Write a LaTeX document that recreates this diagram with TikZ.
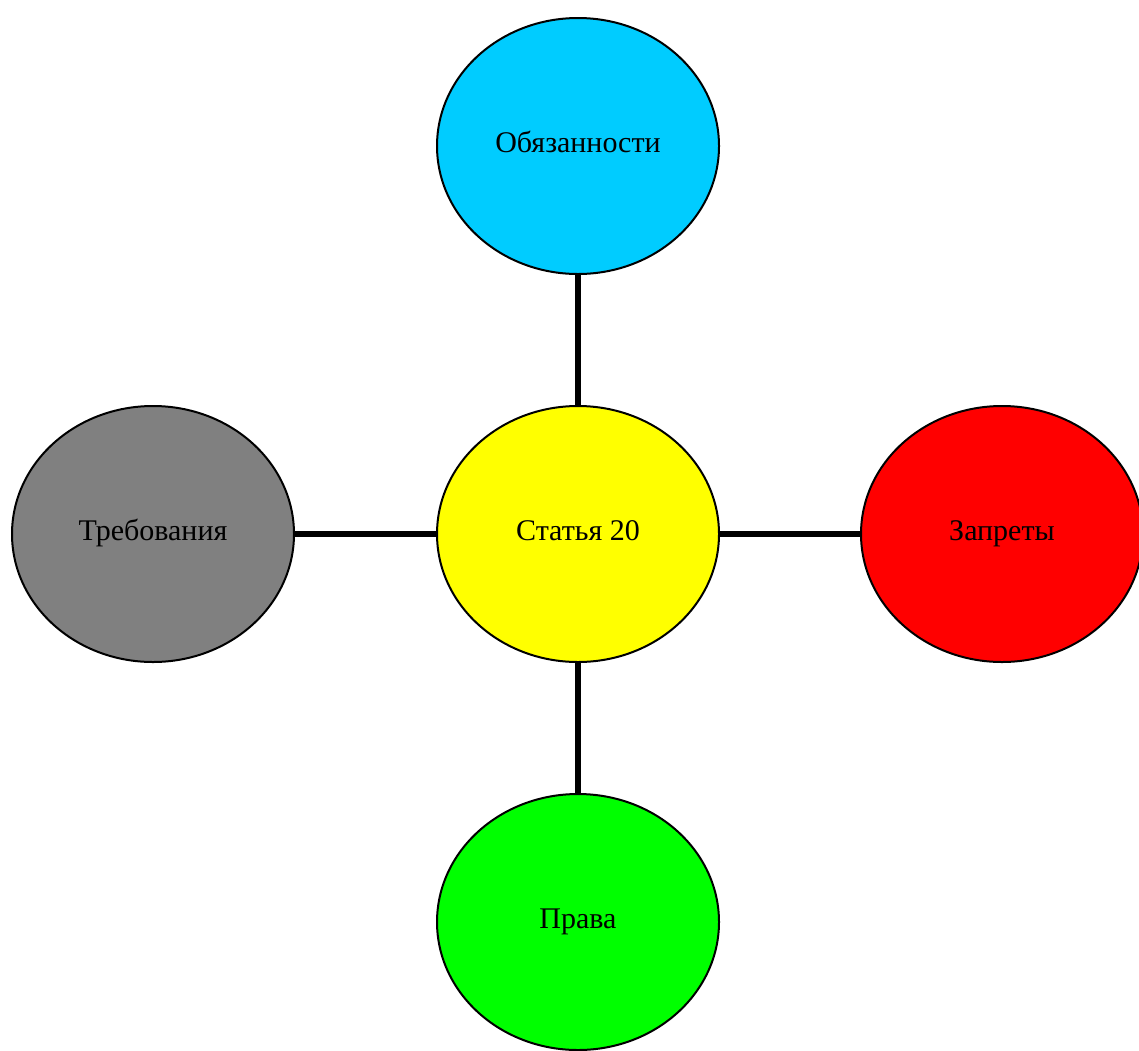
\documentclass[tikz,border=0pt]{standalone}
\usepackage{fontspec}
\setmainfont{Liberation Serif}
\usepackage{tikz}
\usetikzlibrary{shapes.geometric}
\definecolor{skyblue}{RGB}{0,204,255}
\definecolor{pureyellow}{RGB}{255,255,0}
\definecolor{puregray}{RGB}{128,128,128}
\definecolor{purered}{RGB}{255,0,0}
\definecolor{puregreen}{RGB}{0,255,0}
\tikzstyle{topic} = [draw, ellipse, line width=1pt, inner sep=0pt, minimum width=141pt, minimum height=128pt, font=\fontsize{15}{17}\selectfont, text height=10pt, text depth=4pt]
\tikzstyle{link} = [draw, line width=2.6pt]

\begin{document}
\begin{tikzpicture}[x=0.5pt, y=-0.5pt]
	\useasboundingbox (0,0) rectangle (1139,1050);
	% -------------- Nodes --------------
	\node[topic, fill=pureyellow] (art)   at (578,534)  {Статья 20};
	\node[topic, fill=skyblue]    (duty)  at (578,146)  {Обязанности};
	\node[topic, fill=puregray]   (req)   at (153,534)  {Требования};
	\node[topic, fill=purered]    (ban)   at (1002,534) {Запреты};
	\node[topic, fill=puregreen]  (right) at (578,922)  {Права};
	% -------------- Links --------------
	\draw[link] (art) -- (duty);
	\draw[link] (art) -- (req);
	\draw[link] (art) -- (ban);
	\draw[link] (art) -- (right);
\end{tikzpicture}
\end{document}
